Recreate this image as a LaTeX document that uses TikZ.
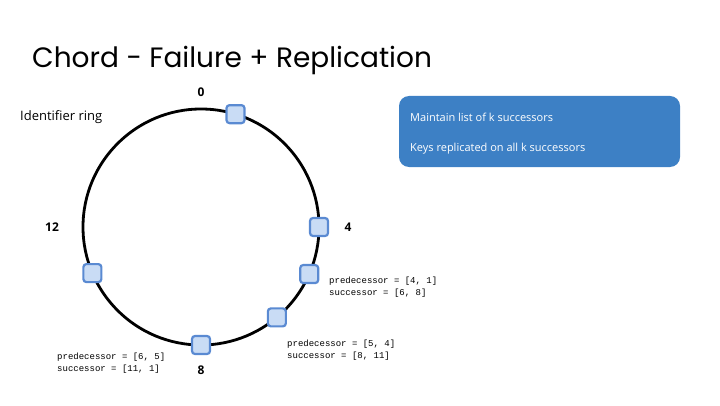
\documentclass[tikz,border=0pt]{standalone}
\usepackage{fontspec}
\setmainfont{Open Sans}
\newfontfamily\titlefont{Poppins}
\setmonofont{Liberation Mono}
\usetikzlibrary{positioning, calc}
\definecolor{peerfill}{HTML}{C9DCF5}
\definecolor{peeredge}{HTML}{5A8AD2}
\definecolor{boxblue}{HTML}{3D80C5}
\tikzset{
  peer/.style={draw=peeredge, fill=peerfill, line width=2.2pt, rounded corners=3pt, minimum size=18pt, inner sep=0pt},
  idlabel/.style={font=\bfseries\fontsize{12}{14}\selectfont, inner sep=0pt},
  fingertab/.style={font=\ttfamily\fontsize{9}{12}\selectfont, align=left, anchor=west, inner sep=0pt},
  boxline/.style={font=\fontsize{11}{14}\selectfont, text=white, anchor=west, inner sep=0pt},
}

\begin{document}
\begin{tikzpicture}[x=1pt, y=1pt]
\useasboundingbox (0,0) rectangle (720,405);

% Title
\node[anchor=base west, inner sep=0pt, font=\titlefont\fontsize{28}{32}\selectfont] (title) at (32,337) {Chord - Failure + Replication};
\node[anchor=west, inner sep=0pt, font=\fontsize{13}{15}\selectfont] (ringlabel) at (20,288) {Identifier ring};

% Ring
\coordinate (c) at (201,178);
\draw[line width=2.8pt] (c) circle (118);

% Peers
\node[peer] (n1) at ($(c)+(73:118)$) {};
\node[peer] (n4) at ($(c)+(0:118)$) {};
\node[peer] (n5) at ($(c)+(-23.5:118)$) {};
\node[peer] (n6) at ($(c)+(-50:118)$) {};
\node[peer] (n8) at ($(c)+(-90:118)$) {};
\node[peer] (n11) at ($(c)+(-157:118)$) {};

% Identifiers
\node[idlabel] (id0) at (201,313) {0};
\node[idlabel] (id4) at (348,178) {4};
\node[idlabel] (id12) at (52,178) {12};
\node[idlabel] (id8) at (201,35) {8};

% Predecessor / successor lists
\node[fingertab] (tab5) at (329,118) {predecessor = [4, 1]\\successor = [6, 8]};
\node[fingertab] (tab6) at (287,54.5) {predecessor = [5, 4]\\successor = [8, 11]};
\node[fingertab] (tab8) at (57,42) {predecessor = [6, 5]\\successor = [11, 1]};

% Replication box
\node[fill=boxblue, rounded corners=10pt, minimum width=281pt, minimum height=71pt, inner sep=0pt] (keysbox) at (539.5,273.5) {};
\node[boxline] (line1) at (410,288) {Maintain list of k successors};
\node[boxline] (line2) at (410,256) {Keys replicated on all k successors};
\end{tikzpicture}
\end{document}
